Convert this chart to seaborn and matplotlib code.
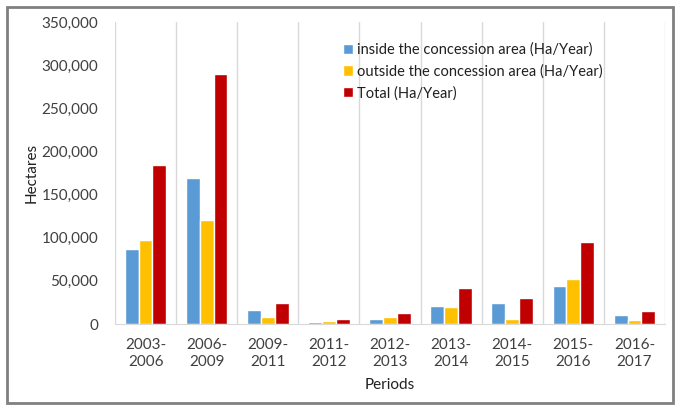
import pandas as pd
import numpy as np
import matplotlib
matplotlib.use('Agg')
import matplotlib.pyplot as plt
import seaborn as sns
from matplotlib.patches import Rectangle
from matplotlib.ticker import FuncFormatter

periods = ['2003-\n2006', '2006-\n2009', '2009-\n2011', '2011-\n2012', '2012-\n2013',
           '2013-\n2014', '2014-\n2015', '2015-\n2016', '2016-\n2017']
inside = [87000, 169000, 16600, 2200, 5800, 20900, 24700, 44000, 10400]
outside = [97000, 120500, 8100, 3000, 7700, 19700, 5800, 51800, 4600]
total = [184000, 289500, 24700, 5800, 13100, 41400, 30500, 95400, 15000]
series = ['inside the concession area (Ha/Year)',
          'outside the concession area (Ha/Year)',
          'Total (Ha/Year)']
colors = ['#5B9BD5', '#FFC000', '#C00000']

df = pd.DataFrame({'period': periods * 3,
                   'value': inside + outside + total,
                   'series': np.repeat(series, len(periods))})

sns.set_style('white')
plt.rcParams['font.family'] = ['Lato', 'DejaVu Sans']

fig = plt.figure(figsize=(6.76, 4.05), dpi=100)
ax = fig.add_axes([115 / 676, 1 - 324 / 405, 550 / 676, 302 / 405])

sns.barplot(data=df, x='period', y='value', hue='series', palette=colors,
            width=0.68, saturation=1, ax=ax, legend=True)

ax.set_ylim(0, 350000)
ax.set_xlim(-0.5, len(periods) - 0.5)
ax.set_yticks(np.arange(0, 350001, 50000))
ax.yaxis.set_major_formatter(FuncFormatter(lambda v, p: f'{int(v):,}'))
ax.tick_params(axis='y', labelsize=11, colors='#404040', length=0, pad=12)
ax.tick_params(axis='x', labelsize=11, colors='#404040', length=0, pad=10)
for t in ax.get_xticklabels():
    t.set_linespacing(1.3)

# vertical gridlines between categories
for b in np.arange(-0.5, len(periods), 1.0):
    ax.axvline(b, color='#D9D9D9', lw=1, zorder=0)

for s in ['top', 'right', 'left']:
    ax.spines[s].set_visible(False)
ax.spines['bottom'].set_color('#D9D9D9')

ax.set_xlabel('Periods', fontsize=11, color='#202020', labelpad=6)
ax.set_ylabel('Hectares', fontsize=11, color='#202020', labelpad=2)

leg = ax.legend(loc='upper left', bbox_to_anchor=(0.39, 0.975), frameon=False,
                fontsize=10.5, handlelength=0.7, handleheight=0.7,
                handletextpad=0.3, labelspacing=0.5)
for t in leg.get_texts():
    t.set_color('#202020')

# outer gray frame
fig.patches.append(Rectangle((7 / 676, 2 / 405), 666 / 676, 396 / 405,
                             transform=fig.transFigure, fill=False,
                             edgecolor='#808080', lw=2))

fig.savefig('out.png', dpi=100)
